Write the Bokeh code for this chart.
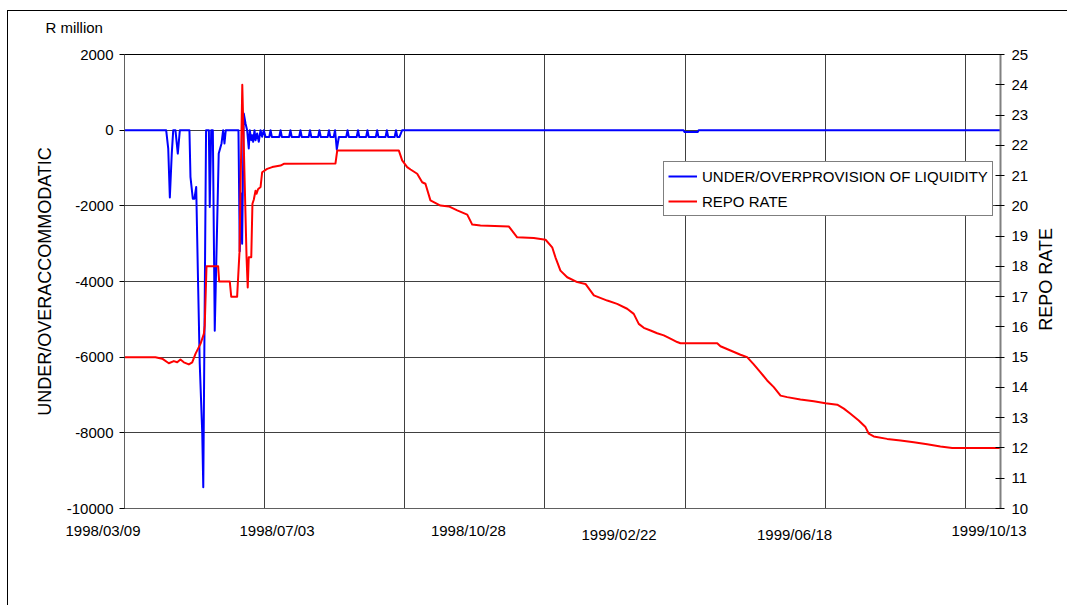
import math
from bokeh.plotting import figure
from bokeh.models import Range1d, LinearAxis, FixedTicker, Legend, LegendItem, Label
from bokeh.embed import file_html
from bokeh.resources import INLINE

FONT = "Liberation Sans"

# x = days since 1998/03/09
LIQ_DAY = [0, 28.3, 29.7, 30.8, 32.1, 33.1, 34.6, 36.2, 37.6, 44.1, 44.8, 46.4, 47.5, 48.7,
           49.8, 51.1, 52.8, 53.5, 55.4, 57.3, 57.9, 58.9, 60.0, 61.3, 64.0, 65.9, 67.0, 67.9,
           68.8, 77.4, 78.3, 79.0, 79.9, 81.0, 82.2, 83.3, 84.4, 85.1, 86.1, 86.7, 87.4, 88.3,
           89.0, 90.1, 91.2, 92.4, 93.5, 94.6, 95.8,
           98.3, 99.2, 100.1, 105.1, 106.0, 106.9, 111.8, 112.7, 113.6, 118.6, 119.5, 120.4,
           125.1, 126.0, 126.9, 131.5, 132.4, 133.3, 138.0, 138.9, 139.8,
           142.1, 143.0, 144.2, 145.6,
           150.6, 151.5, 152.4, 157.7, 158.6, 159.5, 164.1, 165.0, 165.9, 170.7, 171.6, 172.5,
           177.3, 178.2, 179.1, 183.5, 184.4, 185.3,
           186.8, 188.6, 379.7, 380.4, 389.3, 390.0, 595]
LIQ_VAL = [0, 0, -485, -1780, -620, 0, 0, -618, 0, 0, -1233, -1810, -1810, -1500,
           -3700, -6170, -8000, -9440, 0, 0, -2030, 0, 0, -5300, -617, -350, 0, -350,
           0, 0, -3200, -1670, -3000, 440, 176, 0, -485, 0, -264, -132, -308, 0,
           -264, -88, -308, 0, -176, 0, -180,
           -180, 0, -180, -180, 0, -180, -180, 0, -180, -180, 0, -180,
           -180, 0, -180, -180, 0, -180, -180, 0, -180,
           -180, 0, -510, -180,
           -180, 0, -180, -180, 0, -180, -180, 0, -180, -180, 0, -180,
           -180, 0, -180, -180, 0, -180,
           -180, 0, 0, -50, -50, 0, 0]

RATE_DAY = [0, 21.0, 25.6, 30.1, 33.5, 35.8, 38.0, 40.3, 43.7, 46.0, 48.2, 51.6, 53.9, 54.5,
            55.7, 63.6, 64.3, 71.5, 72.5, 76.5, 78.1, 80.0, 82.9, 83.7, 84.4, 86.1, 86.9, 87.8,
            89.0, 89.7, 90.7, 92.4, 93.5, 96.9, 100.3, 106.0, 108.2, 143.3, 144.5, 186.3, 188.6,
            192.0, 194.3, 198.8, 202.2, 204.4, 207.8, 214.6, 220.3, 226.0, 232.8, 236.2, 241.8,
            261.0, 266.7, 278.0, 286.0, 290.5, 292.7, 296.1, 300.7, 307.5, 313.1, 318.8, 327.9,
            334.6, 341.4, 345.9, 349.3, 352.7, 357.3, 361.8, 366.3, 370.8, 375.4, 377.6, 402.6,
            404.8, 411.6, 418.4, 422.9, 427.4, 432.0, 436.5, 441.0, 445.6, 450.1, 459.1, 468.2,
            476.1, 484.1, 488.6, 493.1, 498.7, 503.3, 505.5, 508.9, 518.0, 527.1, 536.1, 545.2,
            554.2, 562.2, 595]
RATE_VAL = [15.0, 15.0, 14.95, 14.80, 14.87, 14.83, 14.92, 14.83, 14.76, 14.83, 15.11, 15.44, 15.77, 16.05,
            18.0, 18.0, 17.5, 17.5, 17.0, 17.0, 18.47, 24.0, 18.3, 17.3, 18.3, 18.3, 20.07, 20.2,
            20.5, 20.4, 20.55, 20.62, 21.11, 21.22, 21.28, 21.33, 21.39, 21.40, 21.83, 21.83, 21.5,
            21.28, 21.2, 21.06, 20.78, 20.73, 20.18, 20.01, 19.98, 19.85, 19.71, 19.38, 19.35,
            19.32, 18.96, 18.94, 18.88, 18.63, 18.30, 17.86, 17.64, 17.48, 17.42, 17.04, 16.87,
            16.76, 16.60, 16.43, 16.10, 15.97, 15.88, 15.79, 15.72, 15.61, 15.50, 15.46, 15.46,
            15.36, 15.22, 15.08, 15.00, 14.76, 14.50, 14.23, 14.01, 13.73, 13.68, 13.60, 13.54,
            13.48, 13.43, 13.30, 13.13, 12.91, 12.69, 12.47, 12.38, 12.30, 12.25, 12.19, 12.12,
            12.05, 12.0, 12.0]

LEFT_TICKS = [-10000, -8000, -6000, -4000, -2000, 0, 2000]
LEFT_TICK_LABELS = ["-10000", "-8000", "-6000", "-4000", "-2000", "0", "2000"]
RIGHT_TICKS = [10, 11, 12, 13, 14, 15, 16, 17, 18, 19, 20, 21, 22, 23, 24, 25]
X_LABELS = ["1998/03/09", "1998/07/03", "1998/10/28", "1999/02/22", "1999/06/18", "1999/10/13"]
X_LABEL_POS = [-14.6, 103.6, 233.6, 335.9, 455.1, 587.2]
X_GRID = [0, 95.2, 190.4, 285.6, 380.8, 476.0, 571.2]

SERIES_NAMES = ["UNDER/OVERPROVISION OF LIQUIDITY", "REPO RATE"]
LEFT_TITLE = "UNDER/OVERACCOMMODATIC"
UNIT_TEXT = "R million"

# styling / placement
X_LABEL_DROP = [13, 13, 13, 17, 17, 13]     # px below the frame
X_LABEL_ON_AXIS = [False, True, True, False, False, True]
GRID_COLOR = "#404040"
AXIS_COLOR = "#606060"

p = figure(width=1060, height=595, output_backend="svg", toolbar_location=None,
           x_range=Range1d(0, 595), y_range=Range1d(-10000, 2000),
           min_border_left=116, min_border_right=68, min_border_top=43, min_border_bottom=98,
           background_fill_color="white", border_fill_color="white")
p.extra_y_ranges = {"rate": Range1d(10, 25)}
p.outline_line_color = "black"
p.outline_line_width = 1
p.styles = {"border-top": "1px solid black", "border-left": "1px solid black",
            "margin-top": "10px", "margin-left": "7px"}

# x axis: labels via the axis where they fit the frame, grid at fixed positions
on_axis = [(pos, txt) for pos, txt, ok in zip(X_LABEL_POS, X_LABELS, X_LABEL_ON_AXIS) if ok]
xa = p.xaxis[0]
xa.ticker = FixedTicker(ticks=[pos for pos, _ in on_axis])
xa.major_label_overrides = {pos: txt for pos, txt in on_axis}
xa.major_label_text_font = FONT
xa.major_label_text_font_size = "15px"
xa.major_label_text_color = "black"
xa.major_label_standoff = 13
xa.major_tick_out = 0
xa.major_tick_in = 0
xa.major_tick_line_color = None
xa.minor_tick_out = 0
xa.minor_tick_in = 0
xa.axis_line_color = AXIS_COLOR
p.xgrid.ticker = FixedTicker(ticks=X_GRID)
p.xgrid.grid_line_color = GRID_COLOR

# the remaining date labels as labels in the bottom side panel (not clipped)
for pos, txt, drop, ok in zip(X_LABEL_POS, X_LABELS, X_LABEL_DROP, X_LABEL_ON_AXIS):
    if ok:
        continue
    p.add_layout(Label(x=pos, y=-10000, text=txt, y_offset=-drop,
                       text_align="center", text_baseline="top",
                       text_font=FONT, text_font_size="15px", text_color="black"), "below")

# left axis
ya = p.yaxis[0]
ya.ticker = FixedTicker(ticks=LEFT_TICKS)
ya.major_label_overrides = {t: s for t, s in zip(LEFT_TICKS, LEFT_TICK_LABELS)}
ya.major_label_text_font = FONT
ya.major_label_text_font_size = "15px"
ya.major_label_text_color = "black"
ya.major_label_standoff = 6
ya.major_tick_out = 5
ya.major_tick_in = 0
ya.minor_tick_out = 0
ya.minor_tick_in = 0
ya.major_tick_line_color = "black"
ya.axis_line_color = AXIS_COLOR
ya.axis_label = LEFT_TITLE
ya.axis_label_text_font = FONT
ya.axis_label_text_font_size = "18px"
ya.axis_label_text_font_style = "normal"
ya.axis_label_text_color = "black"
ya.axis_label_standoff = 9
p.ygrid.grid_line_color = GRID_COLOR

# right axis
ra = LinearAxis(y_range_name="rate", ticker=FixedTicker(ticks=RIGHT_TICKS))
ra.major_label_text_font = FONT
ra.major_label_text_font_size = "15px"
ra.major_label_text_color = "black"
ra.major_label_standoff = 7
ra.major_tick_out = 4
ra.major_tick_in = 5
ra.minor_tick_out = 0
ra.minor_tick_in = 0
ra.major_tick_line_color = "black"
ra.axis_line_color = "#808080"
ra.axis_line_width = 2
p.add_layout(ra, "right")

# right-axis title, reading bottom-to-top
p.add_layout(Label(x=625.6, y=17.57, y_range_name="rate", text=SERIES_NAMES[1],
                   angle=math.pi / 2, text_align="center", text_baseline="middle",
                   text_font=FONT, text_font_size="18px", text_color="black"), "right")

# unit text, top-left
p.add_layout(Label(x=-53.7, y=2710, text=UNIT_TEXT, text_align="left",
                   text_baseline="alphabetic", text_font=FONT, text_font_size="15px",
                   text_color="black"), "above")

# series
r_liq = p.line(LIQ_DAY, LIQ_VAL, line_color="#0000FF", line_width=2, line_join="round")
r_rate = p.line(RATE_DAY, RATE_VAL, line_color="#FF0000", line_width=2, line_join="round",
                y_range_name="rate")

legend = Legend(items=[LegendItem(label=SERIES_NAMES[0], renderers=[r_liq]),
                       LegendItem(label=SERIES_NAMES[1], renderers=[r_rate])],
                location=(539, 292))
legend.label_text_font = FONT
legend.label_text_font_size = "15px"
legend.label_text_color = "black"
legend.glyph_width = 29
legend.glyph_height = 20
legend.label_height = 20
legend.label_standoff = 5
legend.spacing = 5
legend.padding = 4
legend.margin = 0
legend.border_line_color = "black"
legend.border_line_width = 1
legend.background_fill_color = "white"
legend.background_fill_alpha = 1
p.add_layout(legend)

open("out.html", "w").write(file_html(p, INLINE))
